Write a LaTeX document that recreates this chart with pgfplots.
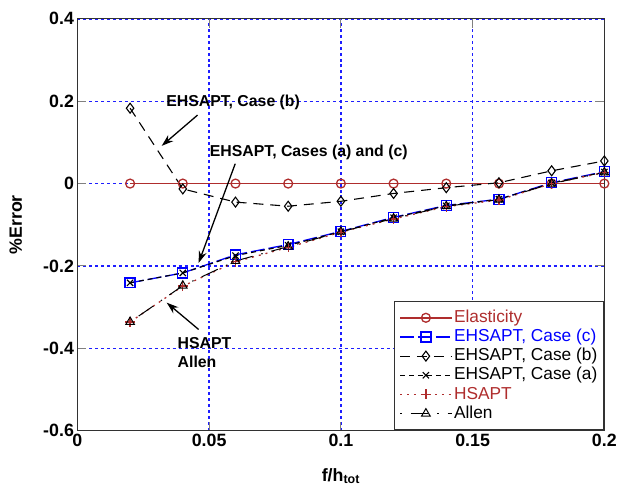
\documentclass[border=0pt]{standalone}
\usepackage{pgfplots}
\pgfplotsset{compat=1.18}
\usepackage{fontspec}
\setmainfont{Liberation Sans}
\usetikzlibrary{arrows.meta}
\definecolor{mred}{RGB}{175,45,45}
\definecolor{axgray}{RGB}{50,50,50}
\definecolor{gblue}{RGB}{30,30,255}
\begin{document}
\begin{tikzpicture}
\begin{axis}[name=ax, scale only axis, width=531bp, height=415bp,
 xmin=0,xmax=0.2,ymin=-0.6,ymax=0.4,
 xtick={0,0.05,0.1,0.15,0.2}, xticklabels={0,0.05,0.1,0.15,0.2},
 ytick={-0.6,-0.4,-0.2,0,0.2,0.4}, yticklabels={-0.6,-0.4,-0.2,0,0.2,0.4},
 tick align=inside, major tick length=9bp, tick style={line width=1bp},
 axis line style={axgray, line width=1.2bp},
 tick label style={font=\fontsize{18}{20}\selectfont\bfseries},
 /pgf/number format/assume math mode=true,
 xmajorgrids, ymajorgrids,
 major grid style={draw=gblue, line width=1.4bp, dash pattern=on 3bp off 3bp},
 clip=false,
 legend style={at={(1,0)}, anchor=south east, draw=axgray, line width=1.2bp, fill=white,
   font=\fontsize{17.5}{19.5}\selectfont, inner xsep=5bp, inner ysep=7bp, row sep=0bp,
   nodes={inner sep=1.5bp, text height=12.8bp, text depth=3.5bp}},
 legend cell align=left,
 legend image code/.code={\draw[mark repeat=2,mark phase=2] plot coordinates {(0bp,0bp) (26bp,0bp) (52bp,0bp)};},
]
\addplot[mred, line width=1.7bp, mark=o, mark size=4.5bp, mark options={solid, line width=1.3bp}] coordinates {
(0.02,0) (0.04,0) (0.06,0) (0.08,0) (0.10,0) (0.12,0) (0.14,0) (0.16,0) (0.18,0) (0.20,0)};
\addlegendentry{\textcolor{mred}{Elasticity}}
\addplot[blue, line width=1.3bp, dash pattern=on 14bp off 4bp, mark=square, mark size=5bp, mark options={solid}] coordinates {
(0.02,-0.241) (0.04,-0.217) (0.06,-0.173) (0.08,-0.148) (0.10,-0.116) (0.12,-0.082) (0.14,-0.053) (0.16,-0.038) (0.18,0.002) (0.20,0.029)};
\addlegendentry{\textcolor{blue}{EHSAPT, Case (c)}}
\addplot[black, line width=1.1bp, dash pattern=on 10bp off 7bp, mark=diamond, mark size=5bp, mark options={solid}] coordinates {
(0.02,0.183) (0.04,-0.013) (0.06,-0.045) (0.08,-0.055) (0.10,-0.043) (0.12,-0.024) (0.14,-0.010) (0.16,0.002) (0.18,0.031) (0.20,0.055)};
\addlegendentry{EHSAPT, Case (b)}
\addplot[black, line width=1.1bp, dash pattern=on 5bp off 4bp, mark=x, mark size=4.5bp, mark options={solid}] coordinates {
(0.02,-0.241) (0.04,-0.217) (0.06,-0.175) (0.08,-0.150) (0.10,-0.117) (0.12,-0.083) (0.14,-0.054) (0.16,-0.038) (0.18,0.001) (0.20,0.028)};
\addlegendentry{EHSAPT, Case (a)}
\addplot[mred, line width=1.3bp, dash pattern=on 2bp off 5bp, mark=+, mark size=5bp, mark options={solid}] coordinates {
(0.02,-0.336) (0.04,-0.249) (0.06,-0.190) (0.08,-0.155) (0.10,-0.118) (0.12,-0.086) (0.14,-0.056) (0.16,-0.040) (0.18,0.000) (0.20,0.027)};
\addlegendentry{\textcolor{mred}{HSAPT}}
\addplot[black, line width=1bp, dash pattern=on 1.5bp off 9bp on 18bp off 9bp, mark=triangle, mark size=5bp, mark options={solid}] coordinates {
(0.02,-0.336) (0.04,-0.248) (0.06,-0.188) (0.08,-0.153) (0.10,-0.117) (0.12,-0.085) (0.14,-0.055) (0.16,-0.039) (0.18,0.000) (0.20,0.027)};
\addlegendentry{Allen}
\node[font=\fontsize{16}{18}\selectfont\bfseries] at (axis cs:0.0591,0.1976) {EHSAPT, Case (b)};
\draw[line width=1.3bp, -{Stealth[length=12bp,width=8bp]}] (axis cs:0.0456,0.1663) -- (axis cs:0.0320,0.0916);
\node[font=\fontsize{16}{18}\selectfont\bfseries] at (axis cs:0.0878,0.0747) {EHSAPT, Cases (a) and (c)};
\draw[line width=1.3bp, -{Stealth[length=12bp,width=8bp]}] (axis cs:0.0599,0.0482) -- (axis cs:0.0460,-0.1928);
\node[font=\fontsize{16}{18}\selectfont\bfseries, anchor=west, inner sep=0pt] at (axis cs:0.0380,-0.388) {HSAPT};
\node[font=\fontsize{16}{18}\selectfont\bfseries, anchor=west, inner sep=0pt] at (axis cs:0.0380,-0.434) {Allen};
\draw[line width=1.3bp, -{Stealth[length=12bp,width=8bp]}] (axis cs:0.0460,-0.3542) -- (axis cs:0.0339,-0.2892);
\end{axis}
\node[rotate=90, font=\fontsize{18}{20}\selectfont\bfseries] at ([xshift=-62bp]ax.west) {\%Error};
\node[font=\fontsize{18}{20}\selectfont\bfseries] at ([yshift=-46bp]ax.south) {f/h\textsubscript{tot}};
\path ([xshift=-78bp,yshift=-56bp]ax.south west) rectangle ([xshift=11bp,yshift=19bp]ax.north east);
\end{tikzpicture}
\end{document}
